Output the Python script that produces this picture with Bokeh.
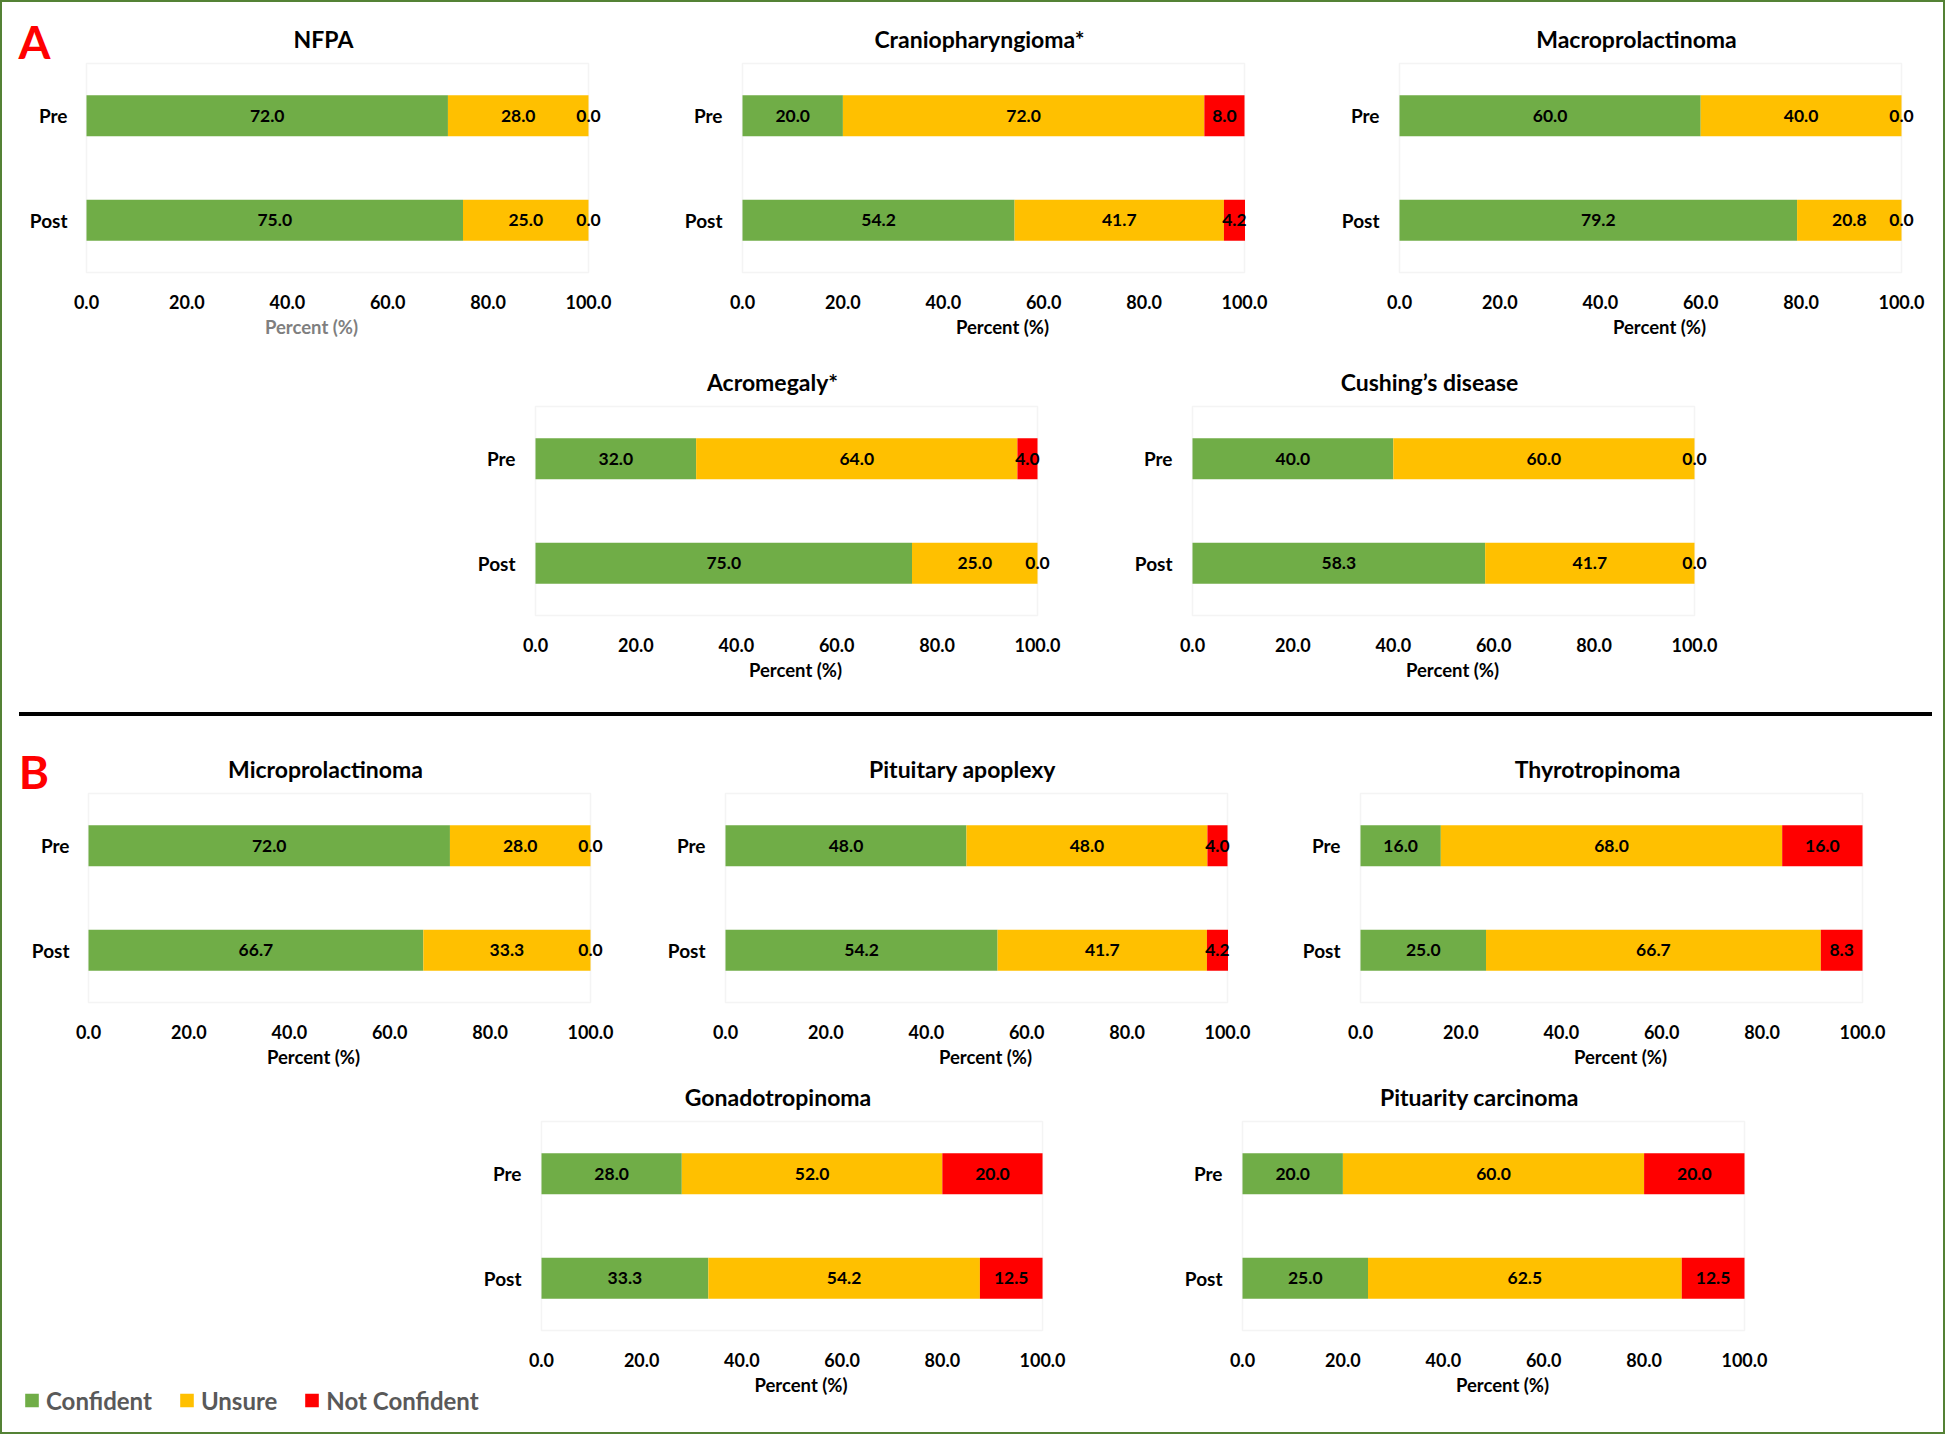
from bokeh.plotting import figure
from bokeh.layouts import column, row
from bokeh.models import (ColumnDataSource, Range1d, FixedTicker, PrintfTickFormatter,
                          Label, LabelSet, Legend, LegendItem, Spacer, Div, BoxAnnotation)
from bokeh.embed import file_html
from bokeh.resources import INLINE
from bokeh.core.properties import value

# ---------------- data ----------------
stages = ["Pre", "Post"]
series = ["Confident", "Unsure", "Not Confident"]
x_ticks = [0, 20, 40, 60, 80, 100]

nfpa_conf = [72.0, 75.0]
nfpa_unsure = [28.0, 25.0]
nfpa_not = [0.0, 0.0]

cranio_conf = [20.0, 54.2]
cranio_unsure = [72.0, 41.7]
cranio_not = [8.0, 4.2]

macro_conf = [60.0, 79.2]
macro_unsure = [40.0, 20.8]
macro_not = [0.0, 0.0]

acro_conf = [32.0, 75.0]
acro_unsure = [64.0, 25.0]
acro_not = [4.0, 0.0]

cushing_conf = [40.0, 58.3]
cushing_unsure = [60.0, 41.7]
cushing_not = [0.0, 0.0]

micro_conf = [72.0, 66.7]
micro_unsure = [28.0, 33.3]
micro_not = [0.0, 0.0]

apoplexy_conf = [48.0, 54.2]
apoplexy_unsure = [48.0, 41.7]
apoplexy_not = [4.0, 4.2]

thyro_conf = [16.0, 25.0]
thyro_unsure = [68.0, 66.7]
thyro_not = [16.0, 8.3]

gonado_conf = [28.0, 33.3]
gonado_unsure = [52.0, 54.2]
gonado_not = [20.0, 12.5]

carcinoma_conf = [20.0, 25.0]
carcinoma_unsure = [60.0, 62.5]
carcinoma_not = [20.0, 12.5]

# ---------------- style ----------------
COLORS = ["#70AD47", "#FFC000", "#FF0000"]
FONT = "Lato"
BOX_W, BOX_H = 502, 209          # plot box (0..100 x 0..2) in px
RIGHT_EXT, BOT_EXT = 20, 2       # extra frame room
RB, BB = 8, 75
PX = BOX_W / 100.0
PY = BOX_H / 2.0
ypos = [len(stages) - i - 0.5 for i in range(len(stages))]


def panel(title, conf, uns, notc, lb=66, tb=10, left_ext=2, top_ext=40,
          yaxis=True, xlabel_color="#000000", letter=None, letter_dx=0, letter_dy=0):
    x0 = -left_ext / PX
    x1 = 100 + RIGHT_EXT / PX
    y0 = -BOT_EXT / PY
    y1 = 2 + top_ext / PY
    fw = BOX_W + left_ext + RIGHT_EXT
    fh = BOX_H + top_ext + BOT_EXT
    p = figure(x_range=Range1d(x0, x1), y_range=Range1d(y0, y1),
               width=lb + fw + RB, height=tb + fh + BB,
               min_border_left=lb, min_border_right=RB,
               min_border_top=tb, min_border_bottom=BB,
               y_axis_type=("linear" if yaxis else None),
               output_backend="svg", toolbar_location=None)
    p.outline_line_color = None
    p.xgrid.visible = False
    p.ygrid.visible = False

    # plot-area box
    p.add_layout(BoxAnnotation(left=0, right=100, bottom=0, top=2, fill_alpha=0,
                               line_color="#D9D9D9", line_width=1.5, level="underlay"))

    src = ColumnDataSource(dict(y=ypos, Confident=conf, Unsure=uns, NotConfident=notc))
    p.hbar_stack(["Confident", "Unsure", "NotConfident"], y="y", height=0.39,
                 fill_color=COLORS, line_color=None, source=src)

    lx, ly, lt = [], [], []
    for i in range(len(stages)):
        left = 0.0
        for vals in (conf, uns, notc):
            v = vals[i]
            lx.append(left + v / 2.0)
            ly.append(ypos[i])
            lt.append(f"{v:.1f}")
            left += v
    p.add_layout(LabelSet(x="x", y="y", text="text",
                          source=ColumnDataSource(dict(x=lx, y=ly, text=lt)),
                          text_align="center", text_baseline="middle",
                          text_font=value(FONT), text_font_style="bold",
                          text_font_size="17.5px", text_color="#000000"))

    # chart title
    p.add_layout(Label(x=50 - 14.0 / PX, y=2 + 25.0 / PY, text=title,
                       text_align="center", text_baseline="middle",
                       text_font=FONT, text_font_style="bold",
                       text_font_size="23px", text_color="#000000"))

    if letter is not None:
        p.add_layout(Label(x=letter_dx / PX, y=2 + letter_dy / PY, text=letter,
                           text_align="center", text_baseline="middle",
                           text_font=FONT, text_font_style="bold",
                           text_font_size="46px", text_color="#FF0000"))

    p.xaxis.ticker = FixedTicker(ticks=x_ticks)
    p.xaxis.formatter = PrintfTickFormatter(format="%.1f")
    p.xaxis.axis_label = "Percent (%)"
    p.xaxis.axis_label_text_font = FONT
    p.xaxis.axis_label_text_font_style = "bold"
    p.xaxis.axis_label_text_font_size = "18.5px"
    p.xaxis.axis_label_text_color = xlabel_color
    p.xaxis.axis_label_standoff = 4
    p.xaxis.major_label_standoff = 14

    if yaxis:
        p.yaxis.ticker = FixedTicker(ticks=ypos)
        p.yaxis.major_label_overrides = {yv: s for yv, s in zip(ypos, stages)}
        p.yaxis.major_label_standoff = 12
        p.yaxis.major_label_text_font_size = "19px"
    else:
        p.add_layout(LabelSet(x="x", y="y", text="text",
                              source=ColumnDataSource(dict(x=[-19.0 / PX] * len(stages),
                                                           y=ypos, text=stages)),
                              text_align="right", text_baseline="middle",
                              text_font=value(FONT), text_font_style="bold",
                              text_font_size="19px", text_color="#000000"))
    for ax in list(p.xaxis) + list(p.yaxis):
        ax.axis_line_color = None
        ax.major_tick_line_color = None
        ax.minor_tick_line_color = None
        ax.major_label_text_font = FONT
        ax.major_label_text_font_style = "bold"
        ax.major_label_text_color = "#000000"
    p.xaxis.major_label_text_font_size = "18px"
    return p


# row A1: figures start at y=2, box top at 63
nfpa = panel("NFPA", nfpa_conf, nfpa_unsure, nfpa_not, lb=12, tb=21, left_ext=72,
             top_ext=40, yaxis=False, xlabel_color="#7F7F7F",
             letter="A", letter_dx=-52, letter_dy=22)
cranio = panel("Craniopharyngioma*", cranio_conf, cranio_unsure, cranio_not, tb=21)
macro = panel("Macroprolactinoma", macro_conf, macro_unsure, macro_not, tb=21)

# row A2: figures start at y=356, box top at 406
acro = panel("Acromegaly*", acro_conf, acro_unsure, acro_not)
cushing = panel("Cushing\u2019s disease", cushing_conf, cushing_unsure, cushing_not)

# row B1: figures start at y=728, box top at 793
micro = panel("Microprolactinoma", micro_conf, micro_unsure, micro_not, lb=14, tb=25,
              left_ext=72, top_ext=40, yaxis=False,
              letter="B", letter_dx=-54.5, letter_dy=22)
apoplexy = panel("Pituitary apoplexy", apoplexy_conf, apoplexy_unsure, apoplexy_not, tb=25)
thyro = panel("Thyrotropinoma", thyro_conf, thyro_unsure, thyro_not, tb=25)

# row B2: figures start at y=1079, box top at 1121
gonado = panel("Gonadotropinoma", gonado_conf, gonado_unsure, gonado_not, lb=58, tb=2)
carcinoma = panel("Pituarity carcinoma", carcinoma_conf, carcinoma_unsure, carcinoma_not, tb=2)

# ---------------- legend ----------------
leg = figure(width=457, height=40, x_range=Range1d(0, 1), y_range=Range1d(0, 1),
             x_axis_type=None, y_axis_type=None, min_border=0,
             output_backend="svg", toolbar_location=None)
leg.xgrid.visible = False
leg.ygrid.visible = False
leg.outline_line_color = None
items = []
for name, c in zip(series, COLORS):
    r = leg.quad(left=[2], right=[3], bottom=[2], top=[3], fill_color=c, line_color=None)
    items.append(LegendItem(label=name, renderers=[r]))
legend = Legend(items=items, orientation="horizontal", location="left",
                glyph_width=17, glyph_height=17, label_standoff=6, spacing=26,
                padding=0, margin=0, border_line_color=None, background_fill_alpha=0,
                label_text_font=FONT, label_text_font_style="bold",
                label_text_font_size="24px", label_text_color="#595959")
leg.add_layout(legend)

sep = Div(text="", width=1913, height=4, margin=(0, 0, 0, 0),
          styles={"background-color": "#000000"})

layout = column(
    Spacer(width=1945, height=2),
    row(Spacer(width=2, height=1), nfpa, Spacer(width=58, height=1), cranio,
        Spacer(width=59, height=1), macro),
    Spacer(width=1, height=7),
    row(Spacer(width=467, height=1), acro, Spacer(width=59, height=1), cushing),
    Spacer(width=1, height=20),
    row(Spacer(width=19, height=4), sep),
    Spacer(width=1, height=12),
    row(Spacer(width=2, height=1), micro, Spacer(width=39, height=1), apoplexy,
        Spacer(width=37, height=1), thyro),
    row(column(Spacer(width=480, height=301), row(Spacer(width=23, height=40), leg)),
        gonado, Spacer(width=104, height=1), carcinoma),
    Spacer(width=1, height=14),
    styles={"outline": "2px solid #548235", "outline-offset": "-2px"},
)

open("out.html", "w").write(file_html(layout, INLINE))
